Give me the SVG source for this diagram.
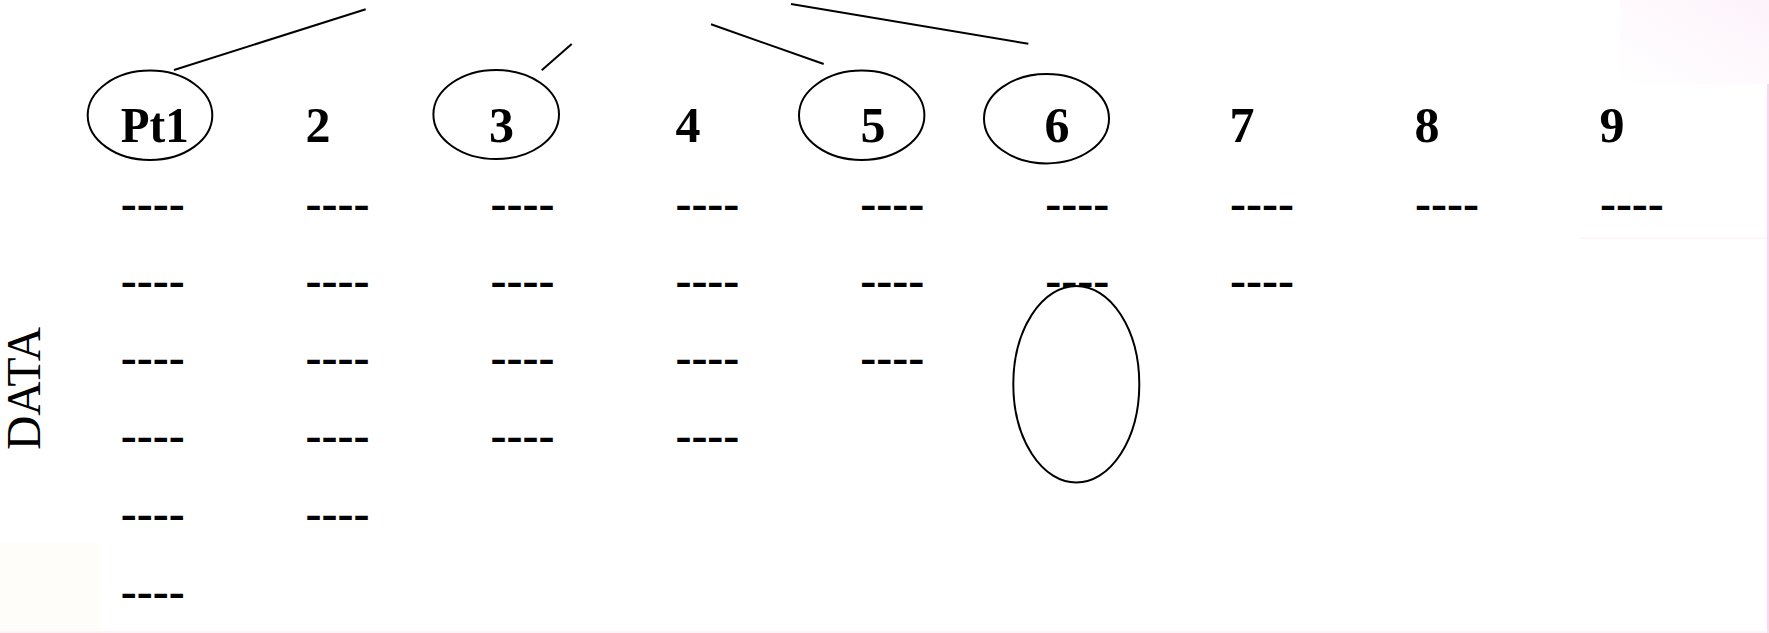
<svg xmlns="http://www.w3.org/2000/svg" width="1769" height="633" viewBox="0 0 1769 633">
  <style>
    .hdr { font-family: "Liberation Serif", "Times New Roman", serif; font-weight: bold; font-size: 50px; fill: #000; }
    .dash { font-family: "Liberation Serif", "Times New Roman", serif; font-weight: bold; font-size: 48px; fill: #000; }
    .side { font-family: "Liberation Serif", "Times New Roman", serif; font-size: 48px; fill: #000; }
    .ring { fill: none; stroke: #000; stroke-width: 2; }
    .conn { stroke: #000; stroke-width: 2; fill: none; }
  </style>
  <defs>
    <linearGradient id="tintTR" x1="0" y1="1" x2="1" y2="0">
      <stop offset="0" stop-color="#ffffff"/>
      <stop offset="1" stop-color="#fdf3fb"/>
    </linearGradient>
  </defs>
  <rect x="0" y="0" width="1769" height="633" fill="#ffffff"/>
  <g id="background-artifacts">
    <rect x="1620" y="0" width="149" height="84" fill="url(#tintTR)"/>
    <rect x="0" y="543" width="100" height="90" fill="#fffdfa"/>
    <line x1="1580" y1="238" x2="1768" y2="238" stroke="#fcecf6" stroke-width="1"/>
    <line x1="1768" y1="84" x2="1768" y2="633" stroke="#f7cbe7" stroke-width="1.5"/>
    <line x1="0" y1="632" x2="1769" y2="632" stroke="#fbe6f1" stroke-width="1"/>
  </g>

  <g id="label-data">
    <text class="side" transform="translate(40,450) rotate(-90)" x="0" y="0" textLength="123" lengthAdjust="spacingAndGlyphs">DATA</text>
  </g>

  <g id="connectors">
    <line class="conn" x1="174" y1="70" x2="365.7" y2="9.3"/>
    <line class="conn" x1="541.7" y1="70.3" x2="571.7" y2="44"/>
    <line class="conn" x1="711" y1="24.3" x2="823.7" y2="64"/>
    <line class="conn" x1="791" y1="4" x2="1028.3" y2="43.7"/>
  </g>

  <g id="node-pt1">
    <ellipse class="ring" cx="150" cy="115.3" rx="62.3" ry="44.7"/>
    <text class="hdr" x="120.8" y="142.3" textLength="68" lengthAdjust="spacingAndGlyphs">Pt1</text>
  </g>
  <g id="node-2">
    <text class="hdr" x="305.5" y="142.3">2</text>
  </g>
  <g id="node-3">
    <ellipse class="ring" cx="496.2" cy="114.5" rx="62.8" ry="44.5"/>
    <text class="hdr" x="489" y="142.3">3</text>
  </g>
  <g id="node-4">
    <text class="hdr" x="675.5" y="142.3">4</text>
  </g>
  <g id="node-5">
    <ellipse class="ring" cx="861.7" cy="115.3" rx="62.7" ry="44.7"/>
    <text class="hdr" x="860.5" y="142.3">5</text>
  </g>
  <g id="node-6">
    <ellipse class="ring" cx="1046.5" cy="118.7" rx="62.5" ry="44.7"/>
    <text class="hdr" x="1044.5" y="142.3">6</text>
  </g>
  <g id="node-7">
    <text class="hdr" x="1229.5" y="142.3">7</text>
  </g>
  <g id="node-8">
    <text class="hdr" x="1414.5" y="142.3">8</text>
  </g>
  <g id="node-9">
    <text class="hdr" x="1599.5" y="142.3">9</text>
  </g>

  <g id="data-col-1">
    <text class="dash" x="120.7" y="218.6">----</text>
    <text class="dash" x="120.7" y="296">----</text>
    <text class="dash" x="120.7" y="373.3">----</text>
    <text class="dash" x="120.7" y="451">----</text>
    <text class="dash" x="120.7" y="528.6">----</text>
    <text class="dash" x="120.7" y="607">----</text>
  </g>
  <g id="data-col-2">
    <text class="dash" x="305.6" y="218.6">----</text>
    <text class="dash" x="305.6" y="296">----</text>
    <text class="dash" x="305.6" y="373.3">----</text>
    <text class="dash" x="305.6" y="451">----</text>
    <text class="dash" x="305.6" y="528.6">----</text>
  </g>
  <g id="data-col-3">
    <text class="dash" x="490.5" y="218.6">----</text>
    <text class="dash" x="490.5" y="296">----</text>
    <text class="dash" x="490.5" y="373.3">----</text>
    <text class="dash" x="490.5" y="451">----</text>
  </g>
  <g id="data-col-4">
    <text class="dash" x="675.4" y="218.6">----</text>
    <text class="dash" x="675.4" y="296">----</text>
    <text class="dash" x="675.4" y="373.3">----</text>
    <text class="dash" x="675.4" y="451">----</text>
  </g>
  <g id="data-col-5">
    <text class="dash" x="860.3" y="218.6">----</text>
    <text class="dash" x="860.3" y="296">----</text>
    <text class="dash" x="860.3" y="373.3">----</text>
  </g>
  <g id="data-col-6">
    <text class="dash" x="1045.2" y="218.6">----</text>
    <text class="dash" x="1045.2" y="296">----</text>
  </g>
  <g id="data-col-7">
    <text class="dash" x="1230.1" y="218.6">----</text>
    <text class="dash" x="1230.1" y="296">----</text>
  </g>
  <g id="data-col-8">
    <text class="dash" x="1415" y="218.6">----</text>
  </g>
  <g id="data-col-9">
    <text class="dash" x="1599.9" y="218.6">----</text>
  </g>

  <g id="node-missing-ring">
    <ellipse class="ring" cx="1076.3" cy="384.3" rx="63" ry="98.3"/>
  </g>
</svg>
